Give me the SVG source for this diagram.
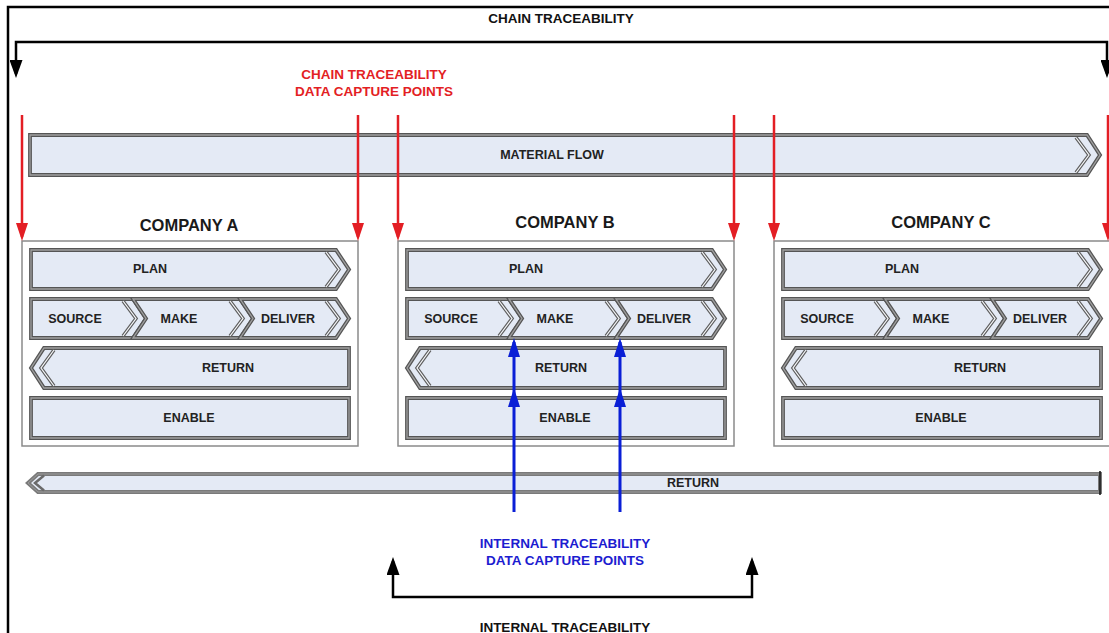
<svg xmlns="http://www.w3.org/2000/svg" xmlns:xlink="http://www.w3.org/1999/xlink" width="1109" height="633" viewBox="0 0 1109 633">
<style>
text{font-family:"Liberation Sans",Arial,sans-serif;font-weight:bold;text-anchor:middle}
.bt{font-size:12.5px;fill:#222}
.ct{font-size:16.5px;fill:#1a1a1a}
.lbl{font-size:13.5px;fill:#111}
.red{font-size:13.5px;fill:#e31e24}
.blue{font-size:13.5px;fill:#1c1cd0}
.bar{fill:#e4eaf5;stroke:#555;stroke-width:3.8;stroke-linejoin:miter}
.bar2{fill:none;stroke:#a0a0a0;stroke-width:1.3;stroke-linejoin:miter}
.chev{fill:none;stroke:#5e5e5e;stroke-width:3.5}
.chev2{fill:none;stroke:#f6f8fb;stroke-width:1.2}
.box{fill:#fff;stroke:#8a8a8a;stroke-width:1.5}
.rl{stroke:#e31e24;stroke-width:2.5;fill:none}
.bl{stroke:#0a1fd6;stroke-width:3;fill:none}
.kl{stroke:#000;stroke-width:2.5;fill:none}
</style>
<defs>
<marker id="mr" viewBox="0 0 18 12" refX="14" refY="6" markerWidth="18" markerHeight="12" markerUnits="userSpaceOnUse" orient="auto"><path d="M0,0 L18,6 L0,12 Z" fill="#e31e24"/></marker>
<marker id="mb" viewBox="0 0 19 12" refX="15" refY="6" markerWidth="19" markerHeight="12" markerUnits="userSpaceOnUse" orient="auto"><path d="M0,0 L19,6 L0,12 Z" fill="#0a1fd6"/></marker>
<marker id="mk" viewBox="0 0 18 13" refX="14" refY="6.5" markerWidth="18" markerHeight="13" markerUnits="userSpaceOnUse" orient="auto-start-reverse"><path d="M0,0 L18,6.5 L0,13 Z" fill="#000"/></marker>
<path id="p-plan" d="M31,250 H336 L349,269.5 L336,289 H31 Z"/>
<path id="c-plan" d="M326,252 L339,269.5 L326,287"/>
<path id="p-src" d="M31,299 H133 L146,318.5 L133,338 H31 Z"/>
<path id="c-src" d="M123,301 L136,318.5 L123,336"/>
<path id="p-make" d="M133,299 H240 L253,318.5 L240,338 H133 L146,318.5 Z"/>
<path id="c-make" d="M230,301 L243,318.5 L230,336"/>
<path id="p-del" d="M240,299 H336 L349,318.5 L336,338 H240 L253,318.5 Z"/>
<path id="c-del" d="M326,301 L339,318.5 L326,336"/>
<path id="p-ret" d="M44,348 H349 V388 H44 L31,368 Z"/>
<path id="c-ret" d="M54,350 L41,368 L54,386"/>
<path id="p-en" d="M31,398 H349 V438 H31 Z"/>
</defs>

<rect x="8" y="7" width="1120" height="650" fill="#fff" stroke="#000" stroke-width="2.5"/>

<text class="lbl" x="561" y="23">CHAIN TRACEABILITY</text>
<text class="red" x="374" y="79">CHAIN TRACEABILITY</text>
<text class="red" x="374" y="96">DATA CAPTURE POINTS</text>

<g id="material-flow">
<path class="bar" d="M30,135 H1087 L1100,155 L1087,175 H30 Z"/>
<path class="bar2" d="M30,135 H1087 L1100,155 L1087,175 H30 Z"/>
<path class="chev" d="M1076,137.5 L1089,155 L1076,172.5"/>
<path class="chev2" d="M1076,137.5 L1089,155 L1076,172.5"/>
<text class="bt" x="552" y="159">MATERIAL FLOW</text>
</g>

<g id="company-a">
<rect class="box" x="22" y="241" width="336" height="205"/>
<text class="ct" x="189" y="231">COMPANY A</text>
<g id="a-plan"><use href="#p-plan" class="bar"/><use href="#p-plan" class="bar2"/><use href="#c-plan" class="chev"/><use href="#c-plan" class="chev2"/><text class="bt" x="150" y="273">PLAN</text></g>
<g id="a-source"><use href="#p-src" class="bar"/><use href="#p-src" class="bar2"/><use href="#c-src" class="chev"/><use href="#c-src" class="chev2"/><text class="bt" x="75" y="323">SOURCE</text></g>
<g id="a-make"><use href="#p-make" class="bar"/><use href="#p-make" class="bar2"/><use href="#c-make" class="chev"/><use href="#c-make" class="chev2"/><text class="bt" x="179" y="323">MAKE</text></g>
<g id="a-deliver"><use href="#p-del" class="bar"/><use href="#p-del" class="bar2"/><use href="#c-del" class="chev"/><use href="#c-del" class="chev2"/><text class="bt" x="288" y="323">DELIVER</text></g>
<g id="a-return"><use href="#p-ret" class="bar"/><use href="#p-ret" class="bar2"/><use href="#c-ret" class="chev"/><use href="#c-ret" class="chev2"/><text class="bt" x="228" y="372">RETURN</text></g>
<g id="a-enable"><use href="#p-en" class="bar"/><use href="#p-en" class="bar2"/><text class="bt" x="189" y="422">ENABLE</text></g>
</g>

<g id="company-b" transform="translate(376,0)">
<rect class="box" x="22" y="241" width="336" height="205"/>
<text class="ct" x="189" y="228">COMPANY B</text>
<g id="b-plan"><use href="#p-plan" class="bar"/><use href="#p-plan" class="bar2"/><use href="#c-plan" class="chev"/><use href="#c-plan" class="chev2"/><text class="bt" x="150" y="273">PLAN</text></g>
<g id="b-source"><use href="#p-src" class="bar"/><use href="#p-src" class="bar2"/><use href="#c-src" class="chev"/><use href="#c-src" class="chev2"/><text class="bt" x="75" y="323">SOURCE</text></g>
<g id="b-make"><use href="#p-make" class="bar"/><use href="#p-make" class="bar2"/><use href="#c-make" class="chev"/><use href="#c-make" class="chev2"/><text class="bt" x="179" y="323">MAKE</text></g>
<g id="b-deliver"><use href="#p-del" class="bar"/><use href="#p-del" class="bar2"/><use href="#c-del" class="chev"/><use href="#c-del" class="chev2"/><text class="bt" x="288" y="323">DELIVER</text></g>
<g id="b-return"><use href="#p-ret" class="bar"/><use href="#p-ret" class="bar2"/><use href="#c-ret" class="chev"/><use href="#c-ret" class="chev2"/><text class="bt" x="185" y="372">RETURN</text></g>
<g id="b-enable"><use href="#p-en" class="bar"/><use href="#p-en" class="bar2"/><text class="bt" x="189" y="422">ENABLE</text></g>
</g>

<g id="company-c" transform="translate(752,0)">
<rect class="box" x="22" y="241" width="336" height="205"/>
<text class="ct" x="189" y="228">COMPANY C</text>
<g id="c-plan-g"><use href="#p-plan" class="bar"/><use href="#p-plan" class="bar2"/><use href="#c-plan" class="chev"/><use href="#c-plan" class="chev2"/><text class="bt" x="150" y="273">PLAN</text></g>
<g id="c-source"><use href="#p-src" class="bar"/><use href="#p-src" class="bar2"/><use href="#c-src" class="chev"/><use href="#c-src" class="chev2"/><text class="bt" x="75" y="323">SOURCE</text></g>
<g id="c-make-g"><use href="#p-make" class="bar"/><use href="#p-make" class="bar2"/><use href="#c-make" class="chev"/><use href="#c-make" class="chev2"/><text class="bt" x="179" y="323">MAKE</text></g>
<g id="c-deliver"><use href="#p-del" class="bar"/><use href="#p-del" class="bar2"/><use href="#c-del" class="chev"/><use href="#c-del" class="chev2"/><text class="bt" x="288" y="323">DELIVER</text></g>
<g id="c-return"><use href="#p-ret" class="bar"/><use href="#p-ret" class="bar2"/><use href="#c-ret" class="chev"/><use href="#c-ret" class="chev2"/><text class="bt" x="228" y="372">RETURN</text></g>
<g id="c-enable"><use href="#p-en" class="bar"/><use href="#p-en" class="bar2"/><text class="bt" x="189" y="422">ENABLE</text></g>
</g>

<g id="return-flow">
<path d="M38,474 H1100 V492 H38 L28,483 Z" fill="#e4eaf5" stroke="#7a7a7a" stroke-width="4"/>
<path d="M38,474 H1100 V492 H38 L28,483 Z" fill="none" stroke="#9a9a9a" stroke-width="1"/>
<path d="M44,475.5 L35,483 L44,490.5" fill="none" stroke="#6a6a6a" stroke-width="2.5"/>
<line x1="1100" y1="471" x2="1100" y2="495" stroke="#111" stroke-width="1.5"/>
<text class="bt" x="693" y="487">RETURN</text>
</g>

<text class="blue" x="565" y="548">INTERNAL TRACEABILITY</text>
<text class="blue" x="565" y="565">DATA CAPTURE POINTS</text>
<text class="lbl" x="565" y="632">INTERNAL TRACEABILITY</text>

<g id="connectors">
<path class="kl" d="M16,74 V42 H1107 V74" marker-start="url(#mk)" marker-end="url(#mk)"/>
<line class="rl" x1="22" y1="115" x2="22" y2="237" marker-end="url(#mr)"/>
<line class="rl" x1="358" y1="115" x2="358" y2="237" marker-end="url(#mr)"/>
<line class="rl" x1="398" y1="115" x2="398" y2="237" marker-end="url(#mr)"/>
<line class="rl" x1="734" y1="115" x2="734" y2="237" marker-end="url(#mr)"/>
<line class="rl" x1="774" y1="115" x2="774" y2="237" marker-end="url(#mr)"/>
<line class="rl" x1="1108" y1="115" x2="1108" y2="237" marker-end="url(#mr)"/>
<polyline class="bl" points="514,512 514,392 514,342" marker-mid="url(#mb)" marker-end="url(#mb)"/>
<polyline class="bl" points="620,512 620,392 620,342" marker-mid="url(#mb)" marker-end="url(#mb)"/>
<path class="kl" d="M393,561 V597 H752 V561" marker-start="url(#mk)" marker-end="url(#mk)"/>
</g>
</svg>
